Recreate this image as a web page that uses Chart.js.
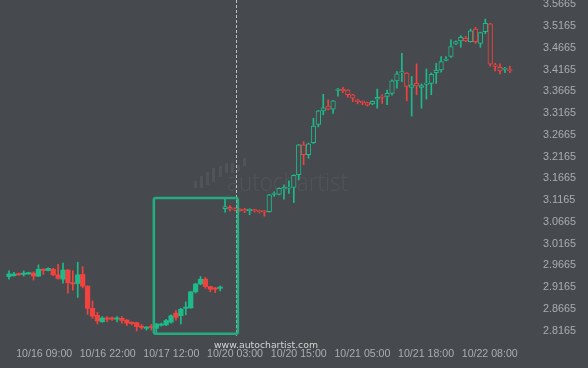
<!DOCTYPE html>
<html>
<head>
<meta charset="utf-8">
<script src="https://cdn.jsdelivr.net/npm/chart.js@4.4.0/dist/chart.umd.min.js"></script>
<style>
  html, body { margin: 0; padding: 0; background: #46494e; }
  #wrap { width: 588px; height: 368px; }
</style>
</head>
<body>
<div id="wrap"><canvas id="myChart" width="588" height="368"></canvas></div>
<script>
// hourly candles
const opens = [2.941,2.943,2.948,2.946,2.947,2.949,2.942,2.958,2.955,2.958,
  2.945,2.935,2.956,2.927,2.925,2.946,2.919,2.868,2.852,2.837,
  2.846,2.846,2.843,2.845,2.841,2.836,2.835,2.826,2.822,2.826,
  2.822,2.829,2.830,2.836,2.857,2.851,2.868,2.869,2.906,2.924,
  2.935,2.918,2.914,2.914,3.097,3.100,3.096,3.096,3.094,3.092,
  3.094,3.092,3.092,3.090,3.130,3.130,3.143,3.144,3.146,3.175,
  3.244,3.221,3.249,3.291,3.322,3.333,3.326,3.369,3.372,3.370,
  3.359,3.347,3.343,3.341,3.338,3.349,3.355,3.355,3.362,3.391,
  3.409,3.409,3.376,3.385,3.376,3.383,3.385,3.410,3.416,3.438,
  3.447,3.475,3.483,3.489,3.481,3.510,3.477,3.504,3.522,3.428,
  3.422,3.417,3.416];
const closes = [2.947,2.947,2.945,2.949,2.950,2.942,2.958,2.955,2.960,2.945,
  2.937,2.956,2.927,2.924,2.945,2.919,2.868,2.850,2.839,2.846,
  2.843,2.843,2.845,2.840,2.834,2.833,2.826,2.824,2.824,2.824,
  2.832,2.832,2.840,2.851,2.847,2.866,2.870,2.906,2.924,2.935,
  2.918,2.912,2.912,2.916,3.102,3.096,3.094,3.092,3.092,3.096,
  3.092,3.090,3.089,3.129,3.133,3.144,3.145,3.146,3.174,3.244,
  3.221,3.246,3.287,3.322,3.329,3.326,3.345,3.371,3.368,3.359,
  3.351,3.343,3.341,3.335,3.344,3.353,3.353,3.362,3.391,3.407,
  3.410,3.378,3.382,3.379,3.380,3.385,3.406,3.415,3.435,3.440,
  3.470,3.481,3.491,3.483,3.506,3.481,3.502,3.523,3.429,3.424,
  3.414,3.418,3.414];
const highs = [2.954,2.951,2.949,2.954,2.951,2.952,2.968,2.959,2.961,2.960,
  2.969,2.972,2.957,2.954,2.974,2.964,2.920,2.885,2.859,2.849,
  2.849,2.848,2.849,2.849,2.842,2.837,2.836,2.831,2.826,2.831,
  2.833,2.834,2.843,2.853,2.863,2.868,2.883,2.907,2.926,2.941,
  2.939,2.919,2.916,2.919,3.119,3.104,3.099,3.097,3.098,3.097,
  3.095,3.094,3.093,3.130,3.136,3.145,3.152,3.161,3.175,3.245,
  3.251,3.248,3.305,3.323,3.360,3.347,3.346,3.374,3.376,3.371,
  3.360,3.349,3.345,3.342,3.345,3.372,3.359,3.370,3.393,3.412,
  3.454,3.410,3.401,3.430,3.384,3.418,3.409,3.431,3.447,3.447,
  3.485,3.483,3.495,3.493,3.510,3.514,3.503,3.533,3.523,3.431,
  3.430,3.422,3.425];
const lows = [2.935,2.942,2.944,2.942,2.946,2.933,2.941,2.946,2.954,2.943,
  2.935,2.926,2.903,2.910,2.893,2.915,2.854,2.845,2.832,2.836,
  2.837,2.840,2.837,2.834,2.828,2.830,2.816,2.820,2.818,2.818,
  2.812,2.827,2.828,2.834,2.841,2.832,2.853,2.868,2.903,2.922,
  2.914,2.906,2.904,2.908,3.089,3.092,3.092,3.091,3.088,3.083,
  3.089,3.087,3.080,3.089,3.125,3.129,3.119,3.132,3.111,3.163,
  3.198,3.213,3.247,3.285,3.313,3.324,3.316,3.356,3.364,3.353,
  3.343,3.338,3.336,3.333,3.336,3.328,3.339,3.336,3.358,3.374,
  3.389,3.345,3.310,3.359,3.328,3.349,3.359,3.385,3.411,3.437,
  3.445,3.474,3.468,3.481,3.480,3.477,3.468,3.499,3.425,3.414,
  3.407,3.410,3.410];

const xTickPos = [7.17, 20.1, 33.05, 46.03, 59.0, 71.97, 84.93, 97.9];
const xTickLabels = ["10/16 09:00","10/16 22:00","10/17 12:00","10/20 03:00",
  "10/20 15:00","10/21 05:00","10/21 18:00","10/22 08:00"];
const yTicks = [3.5665,3.5165,3.4665,3.4165,3.3665,3.3165,3.2665,3.2165,
  3.1665,3.1165,3.0665,3.0165,2.9665,2.9165,2.8665,2.8165];

// pattern box and "now" line
const boxStart = 29.5, boxEnd = 46.6, boxHigh = 3.1215, boxLow = 2.8095;
const nowPos = 46.2;
const hollowFrom = 44;

const BG = '#46494e';
const UP = '#1dbb8a';
const DOWN = '#f0433f';

const colors = opens.map((o, i) => closes[i] >= o ? UP : DOWN);
const fills = colors.map((c, i) => i >= hollowFrom ? BG : c);

const decor = {
  id: 'decor',
  beforeDraw(chart) {
    const ctx = chart.ctx;
    ctx.save();
    ctx.fillStyle = BG;
    ctx.fillRect(0, 0, chart.width, chart.height);
    // watermark logo
    ctx.fillStyle = 'rgba(255,255,255,0.055)';
    const bars = [[194,181,188],[200,176,188],[206,172,185],[212,168,182],[219,166,177],[225,163,173],[231,163,173],[237,165,171],[243,158,166]];
    bars.forEach(b => { ctx.fillRect(b[0], b[1], 3, b[2] - b[1]); });
    ctx.fillStyle = 'rgba(255,255,255,0.06)';
    ctx.font = '300 26px "Open Sans"';
    const w = ctx.measureText('autochartist').width;
    ctx.save();
    ctx.translate(227, 191);
    ctx.scale(121 / w, 1);
    ctx.textBaseline = 'alphabetic';
    ctx.fillText('autochartist', 0, 0);
    ctx.restore();
    ctx.restore();
  },
  afterDatasetsDraw(chart) {
    const ctx = chart.ctx;
    const x = chart.scales.x, y = chart.scales.y;
    ctx.save();
    // dashed "now" line
    ctx.strokeStyle = 'rgba(215,215,215,0.85)';
    ctx.lineWidth = 1;
    ctx.setLineDash([3, 2]);
    const nx = Math.round(x.getPixelForValue(nowPos)) + 0.5;
    ctx.beginPath();
    ctx.moveTo(nx, chart.chartArea.top);
    ctx.lineTo(nx, y.getPixelForValue(2.805));
    ctx.stroke();
    ctx.setLineDash([]);
    // pattern box
    ctx.strokeStyle = '#22ac7f';
    ctx.lineWidth = 2.6;
    const x0 = x.getPixelForValue(boxStart), x1 = x.getPixelForValue(boxEnd);
    const y0 = y.getPixelForValue(boxHigh), y1 = y.getPixelForValue(boxLow);
    ctx.beginPath();
    ctx.roundRect(x0, y0, x1 - x0, y1 - y0, 2);
    ctx.stroke();
    // site name
    ctx.fillStyle = '#d6d6d6';
    ctx.font = '9.5px "DejaVu Sans"';
    const tw = ctx.measureText('www.autochartist.com').width;
    ctx.save();
    ctx.translate(214, 348);
    ctx.scale(104 / tw, 1);
    ctx.fillText('www.autochartist.com', 0, 0);
    ctx.restore();
    ctx.restore();
  }
};

const ctx = document.getElementById('myChart');
new Chart(ctx, {
  type: 'bar',
  data: {
    datasets: [
      {
        label: 'body',
        data: opens.map((o, i) => ({ x: i, y: [o, closes[i]] })),
        backgroundColor: fills,
        borderColor: colors,
        borderWidth: colors.map((c, i) => i >= hollowFrom ? 1 : 0),
        borderSkipped: false,
        barThickness: 4.6,
        minBarLength: 1.3,
        grouped: false,
        order: 1
      },
      {
        label: 'wick',
        data: lows.map((l, i) => ({ x: i, y: [l, highs[i]] })),
        backgroundColor: colors,
        borderWidth: 0,
        barThickness: 1,
        grouped: false,
        order: 2
      }
    ]
  },
  options: {
    responsive: false,
    animation: false,
    events: [],
    layout: { padding: 0 },
    plugins: { legend: { display: false }, tooltip: { enabled: false } },
    scales: {
      x: {
        type: 'linear',
        offset: false,
        min: -1.833,
        max: 106.1,
        grid: { display: false, drawTicks: false },
        border: { display: false },
        afterBuildTicks: s => { s.ticks = xTickPos.map(v => ({ value: v })); },
        afterFit: s => { s.height = 28; s.paddingLeft = 0; s.paddingRight = 0; },
        ticks: {
          autoSkip: false,
          maxRotation: 0,
          padding: 8,
          color: '#a9adb2',
          font: { family: 'Liberation Sans', size: 10.6 },
          callback: (v, i) => xTickLabels[i]
        }
      },
      y: {
        position: 'right',
        min: 2.7952,
        max: 3.5768,
        grid: { display: false, drawTicks: false },
        border: { display: false },
        afterBuildTicks: s => { s.ticks = yTicks.map(v => ({ value: v })); },
        afterFit: s => { s.width = 58; s.paddingTop = 0; s.paddingBottom = 0; },
        ticks: {
          padding: 13,
          color: '#a9adb2',
          font: { family: 'Liberation Sans', size: 10.8 },
          callback: v => v.toFixed(4)
        }
      }
    }
  },
  plugins: [decor]
});
</script>
</body>
</html>
